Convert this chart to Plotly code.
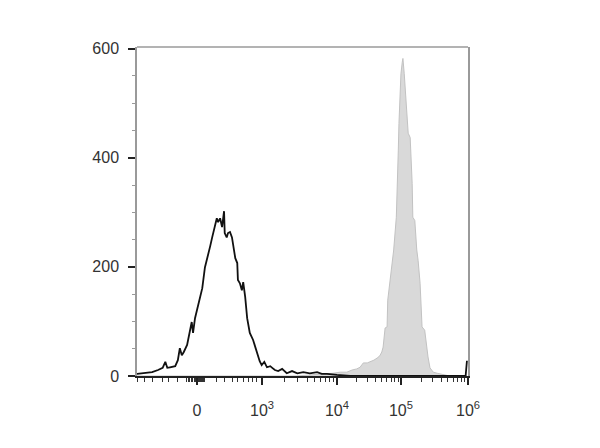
import math
import plotly.graph_objects as go

# ---- data (display units on a biexponential-like axis; counts) ----
black_x = [-0.91, -0.79, -0.68, -0.59, -0.52, -0.48, -0.45, -0.41, -0.33, -0.29, -0.26, -0.23,
           -0.20, -0.15, -0.11, -0.08, -0.06, -0.03, 0.00, 0.05, 0.08, 0.12, 0.17, 0.20, 0.23,
           0.27, 0.30, 0.32, 0.35, 0.38, 0.39, 0.41, 0.42, 0.45, 0.47, 0.50, 0.53, 0.55, 0.58,
           0.61, 0.62, 0.65, 0.68, 0.70, 0.73, 0.76, 0.80, 0.85, 0.88, 0.92, 0.95, 0.98, 1.02,
           1.06, 1.11, 1.14, 1.18, 1.23, 1.29, 1.36, 1.44, 1.52, 1.61, 1.71, 1.82, 1.89, 1.97,
           2.12, 2.32, 3.00, 3.80, 4.07, 4.09]
black_y = [4, 5, 7, 11, 15, 26, 15, 16, 18, 29, 51, 38,
           44, 57, 84, 99, 79, 106, 121, 145, 161, 199, 227, 238, 254,
           276, 289, 282, 289, 273, 280, 302, 262, 254, 262, 264, 254, 236, 216,
           207, 176, 170, 157, 172, 145, 106, 79, 66, 53, 35, 27, 20, 26,
           16, 18, 15, 11, 9, 13, 5, 9, 5, 7, 5, 7, 4, 4,
           2, 0, 0, 0, 0, 28]

gray_x = [-0.91, 1.50, 2.06, 2.17, 2.27, 2.35, 2.42, 2.47, 2.52, 2.58, 2.62, 2.68, 2.73, 2.77,
          2.80, 2.82, 2.85, 2.88, 2.89, 2.92, 2.95, 2.98, 3.02, 3.03, 3.05, 3.06, 3.08,
          3.09, 3.11, 3.12, 3.14, 3.15, 3.18, 3.20, 3.23, 3.26, 3.27, 3.30, 3.33, 3.35,
          3.38, 3.41, 3.45, 3.48, 3.50, 3.53, 3.58, 3.64, 3.68, 3.76, 3.83, 4.09]
gray_y = [0, 0, 5, 7, 7, 11, 13, 16, 24, 24, 26, 29, 33, 37,
          44, 53, 88, 90, 139, 170, 209, 231, 291, 353, 414, 463, 536,
          554, 575, 582, 554, 536, 463, 445, 437, 353, 291, 285, 231, 212,
          170, 90, 84, 48, 35, 15, 7, 5, 4, 2, 0, 0]

x_tick_labels = ["0", "10<sup>3</sup>", "10<sup>4</sup>", "10<sup>5</sup>", "10<sup>6</sup>"]
x_tick_vals = [0.0, 0.985, 2.12, 3.09, 4.106]
y_tick_vals = [0, 200, 400, 600]

# minor tick positions on the x axis
minor_x = [-0.894, -0.788, -0.667, -0.530, -0.439, -0.303, -0.152, -0.13, -0.11, -0.09,
           -0.075, -0.061, -0.045, -0.03, -0.015, 0.015, 0.03, 0.045, 0.06, 0.075, 0.09,
           0.105, 0.121, 0.303, 0.424, 0.545, 0.621, 0.697, 0.773, 0.848, 0.909]
for a, b in zip(x_tick_vals[1:-1], x_tick_vals[2:]):
    for k in range(2, 10):
        minor_x.append(a + (b - a) * math.log10(k))

fig = go.Figure()
fig.add_trace(go.Scatter(
    x=gray_x, y=gray_y, mode="lines", fill="tozeroy",
    fillcolor="#d9d9d9", line=dict(color="#c2c2c2", width=1),
    showlegend=False, hoverinfo="skip"))
fig.add_trace(go.Scatter(
    x=black_x, y=black_y, mode="lines",
    line=dict(color="#111111", width=1.8),
    showlegend=False, hoverinfo="skip"))

font = dict(family="Liberation Sans, Arial, sans-serif", size=16, color="#333333")

# the page body adds an 8px offset, so the figure is sized to compensate
fig.update_layout(
    width=592, height=440,
    margin=dict(l=129, r=132, t=39, b=72),
    paper_bgcolor="white", plot_bgcolor="white",
    font=font,
    xaxis=dict(
        range=[-0.909, 4.106], showgrid=False, zeroline=False,
        showline=True, linecolor="#222222", linewidth=2,
        ticks="outside", ticklen=7, tickwidth=2, tickcolor="#222222",
        tickmode="array", tickvals=x_tick_vals, ticktext=x_tick_labels,
        ticklabelstandoff=12, tickfont=dict(size=16, color="#333333"),
        minor=dict(tickmode="array", tickvals=minor_x, ticks="outside",
                   ticklen=4, tickwidth=1, tickcolor="#333333", showgrid=False),
    ),
    yaxis=dict(
        range=[0, 603], showgrid=False, zeroline=False,
        showline=True, linecolor="#9a9a9a", linewidth=1.5, mirror=True,
        ticks="outside", ticklen=7, tickwidth=2, tickcolor="#222222",
        tickmode="array", tickvals=y_tick_vals,
        ticklabelstandoff=6, tickfont=dict(size=16, color="#333333"),
        minor=dict(dtick=50, ticks="outside", ticklen=3, tickwidth=1,
                   tickcolor="#999999", showgrid=False),
    ),
    shapes=[dict(type="line", xref="paper", yref="paper", x0=0, x1=1, y0=1, y1=1,
                 line=dict(color="#9a9a9a", width=1.5))],
)

fig.write_html("out.html")
